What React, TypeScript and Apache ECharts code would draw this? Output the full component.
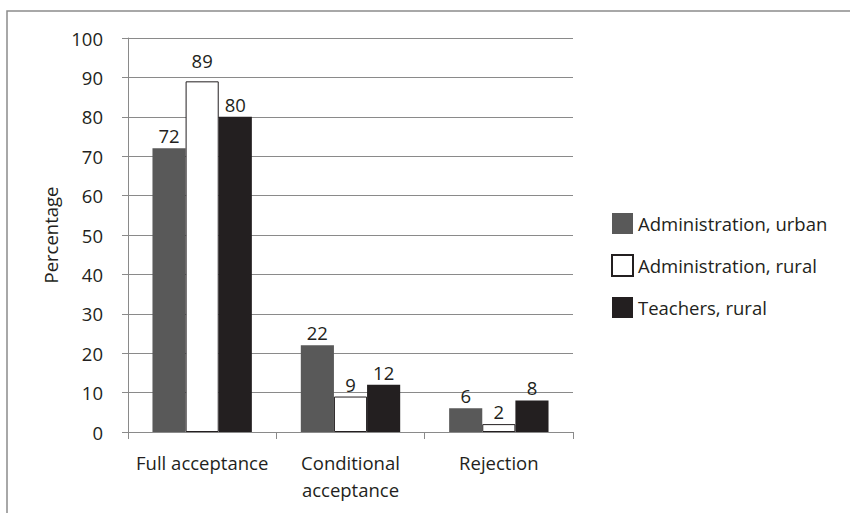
import React, { useEffect, useRef } from "react";
import * as echarts from "echarts";

const categories = ["Full acceptance", "Conditional\nacceptance", "Rejection"];
const seriesNames = ["Administration, urban", "Administration, rural", "Teachers, rural"];
const adminUrban = [72, 22, 6];
const adminRural = [89, 9, 2];
const teachersRural = [80, 12, 8];
const yTicks = { min: 0, max: 100, interval: 10 };

const FONT = "Open Sans";
const FS = 18.5;
const TEXT = "#231F20";
const GRID = "#8a8a8a";

export default function App() {
  const ref = useRef<HTMLDivElement>(null);
  useEffect(() => {
    if (!ref.current) return;
    const chart = echarts.init(ref.current, undefined, { renderer: "svg" });
    const label = {
      show: true,
      position: "top",
      distance: 3,
      color: TEXT,
      fontFamily: FONT,
      fontSize: FS,
    };
    // the label of the tallest bar sits a little higher in the reference
    const ruralData = adminRural.map((v, i) =>
      i === 0 ? { value: v, label: { distance: 11 } } : v
    );
    chart.setOption({
      animation: false,
      textStyle: { fontFamily: FONT, color: TEXT },
      graphic: [
        {
          type: "rect",
          shape: { x: 7, y: 11, width: 900, height: 600 },
          style: { fill: "none", stroke: "#8c8c8c", lineWidth: 1.5 },
          silent: true,
        },
      ],
      grid: { left: 128, right: 277, top: 38, bottom: 81 },
      legend: {
        orient: "vertical",
        left: 606,
        top: 208,
        itemWidth: 21,
        itemHeight: 21,
        itemGap: 20,
        icon: "rect",
        textStyle: { fontFamily: FONT, fontSize: FS, color: TEXT },
        data: seriesNames,
      },
      xAxis: {
        type: "category",
        data: categories,
        axisLine: { lineStyle: { color: GRID, width: 1 } },
        axisTick: { show: true, length: 7, lineStyle: { color: GRID } },
        axisLabel: {
          interval: 0,
          color: TEXT,
          fontFamily: FONT,
          fontSize: FS,
          margin: 17,
          lineHeight: 27,
        },
      },
      yAxis: {
        type: "value",
        min: yTicks.min,
        max: yTicks.max,
        interval: yTicks.interval,
        name: "Percentage",
        nameLocation: "middle",
        nameGap: 60,
        nameRotate: 90,
        nameTextStyle: { color: TEXT, fontFamily: FONT, fontSize: FS },
        axisLine: { show: true, lineStyle: { color: GRID, width: 1 } },
        axisTick: { show: true, length: 6, lineStyle: { color: GRID } },
        splitLine: { show: true, lineStyle: { color: GRID, width: 1 } },
        axisLabel: { color: TEXT, fontFamily: FONT, fontSize: FS, margin: 25 },
      },
      series: [
        {
          name: seriesNames[0],
          type: "bar",
          data: adminUrban,
          barGap: "0%",
          barCategoryGap: "33%",
          itemStyle: { color: "#595959" },
          label,
        },
        {
          name: seriesNames[1],
          type: "bar",
          data: ruralData,
          barGap: "0%",
          barCategoryGap: "33%",
          itemStyle: { color: "#ffffff", borderColor: TEXT, borderWidth: 1 },
          label,
        },
        {
          name: seriesNames[2],
          type: "bar",
          data: teachersRural,
          barGap: "0%",
          barCategoryGap: "33%",
          itemStyle: { color: TEXT },
          label,
        },
      ],
    });
    return () => chart.dispose();
  }, []);
  return <div ref={ref} style={{ width: 850, height: 513, position: "absolute", left: 0, top: 0 }} />;
}
